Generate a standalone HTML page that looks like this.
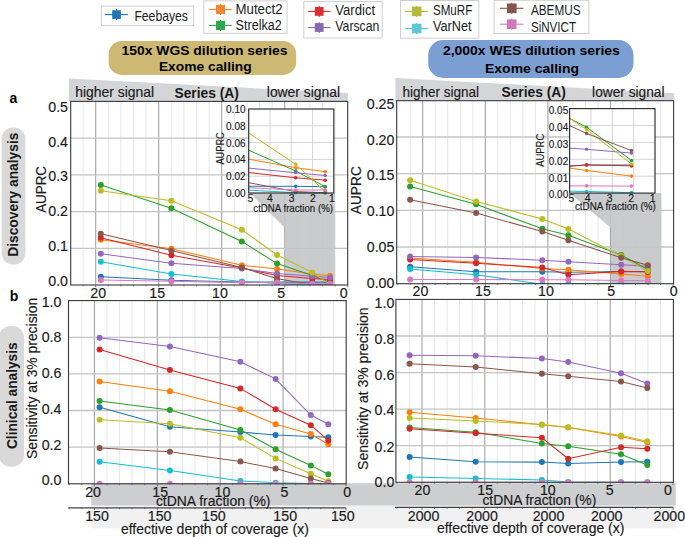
<!DOCTYPE html>
<html><head><meta charset="utf-8"><title>Figure</title>
<style>html,body{margin:0;padding:0;background:#fff;}svg{display:block;}text{font-family:"Liberation Sans",sans-serif;}</style></head>
<body>
<svg width="685" height="537" viewBox="0 0 685 537" font-family="Liberation Sans, sans-serif">
<rect width="685" height="537" fill="#fff"/>
<rect x="101.4" y="6.1" width="92.19999999999999" height="19.5" fill="#fff" stroke="#cfcfcf" stroke-width="1"/>
<line x1="105" y1="14.6" x2="127.9" y2="14.6" stroke="#1f78b4" stroke-width="1.1"/>
<line x1="116.55000000000001" y1="9.0" x2="116.55000000000001" y2="20.2" stroke="#1f78b4" stroke-width="1.1"/>
<rect x="112.2" y="10.249999999999998" width="8.700000000000003" height="8.700000000000003" fill="#1f78b4"/>
<text x="134.4" y="21.4" font-size="14" text-anchor="start" textLength="53.5" lengthAdjust="spacingAndGlyphs" fill="#1c1c1c">Feebayes</text>
<rect x="203.8" y="0.9" width="83.19999999999999" height="32.4" fill="#fff" stroke="#cfcfcf" stroke-width="1"/>
<line x1="209" y1="9.45" x2="231.8" y2="9.45" stroke="#f38630" stroke-width="1.1"/>
<line x1="220.5" y1="3.8499999999999996" x2="220.5" y2="15.049999999999999" stroke="#f38630" stroke-width="1.1"/>
<rect x="216" y="4.949999999999999" width="9" height="9" fill="#f38630"/>
<text x="235.6" y="13.7" font-size="14" text-anchor="start" textLength="47" lengthAdjust="spacingAndGlyphs" fill="#1c1c1c">Mutect2</text>
<line x1="209" y1="25.4" x2="231.8" y2="25.4" stroke="#2ea84f" stroke-width="1.1"/>
<line x1="220.55" y1="19.799999999999997" x2="220.55" y2="31.0" stroke="#2ea84f" stroke-width="1.1"/>
<rect x="216" y="20.85" width="9.099999999999994" height="9.099999999999994" fill="#2ea84f"/>
<text x="235.6" y="29.6" font-size="14" text-anchor="start" textLength="46.1" lengthAdjust="spacingAndGlyphs" fill="#1c1c1c">Strelka2</text>
<rect x="303.8" y="1.4" width="78.39999999999998" height="36.6" fill="#fff" stroke="#cfcfcf" stroke-width="1"/>
<line x1="308.1" y1="11.4" x2="330.6" y2="11.4" stroke="#da2d34" stroke-width="1.1"/>
<line x1="319.20000000000005" y1="5.800000000000001" x2="319.20000000000005" y2="17.0" stroke="#da2d34" stroke-width="1.1"/>
<rect x="314.8" y="6.999999999999995" width="8.800000000000011" height="8.800000000000011" fill="#da2d34"/>
<text x="335.3" y="14.9" font-size="14" text-anchor="start" textLength="39.8" lengthAdjust="spacingAndGlyphs" fill="#1c1c1c">Vardict</text>
<line x1="308.1" y1="27.5" x2="330.6" y2="27.5" stroke="#886ab0" stroke-width="1.1"/>
<line x1="319.20000000000005" y1="21.9" x2="319.20000000000005" y2="33.1" stroke="#886ab0" stroke-width="1.1"/>
<rect x="314.8" y="23.099999999999994" width="8.800000000000011" height="8.800000000000011" fill="#886ab0"/>
<text x="335.3" y="30.5" font-size="14" text-anchor="start" textLength="44.1" lengthAdjust="spacingAndGlyphs" fill="#1c1c1c">Varscan</text>
<rect x="400.5" y="0.5" width="78.30000000000001" height="37.7" fill="#fff" stroke="#cfcfcf" stroke-width="1"/>
<line x1="404.9" y1="11.4" x2="428.2" y2="11.4" stroke="#b4ba3a" stroke-width="1.1"/>
<line x1="416.7" y1="5.800000000000001" x2="416.7" y2="17.0" stroke="#b4ba3a" stroke-width="1.1"/>
<rect x="411.9" y="6.599999999999989" width="9.600000000000023" height="9.600000000000023" fill="#b4ba3a"/>
<text x="432.9" y="14.6" font-size="14" text-anchor="start" textLength="39.4" lengthAdjust="spacingAndGlyphs" fill="#1c1c1c">SMuRF</text>
<line x1="404.9" y1="28.5" x2="428.2" y2="28.5" stroke="#5ec8d6" stroke-width="1.1"/>
<line x1="416.7" y1="22.9" x2="416.7" y2="34.1" stroke="#5ec8d6" stroke-width="1.1"/>
<rect x="411.9" y="23.69999999999999" width="9.600000000000023" height="9.600000000000023" fill="#5ec8d6"/>
<text x="432.9" y="31.4" font-size="14" text-anchor="start" textLength="38.6" lengthAdjust="spacingAndGlyphs" fill="#1c1c1c">VarNet</text>
<rect x="494.1" y="0.3" width="94.79999999999995" height="33.2" fill="#fff" stroke="#cfcfcf" stroke-width="1"/>
<line x1="499.9" y1="8.3" x2="523.5" y2="8.3" stroke="#87554c" stroke-width="1.1"/>
<line x1="511.8" y1="2.700000000000001" x2="511.8" y2="13.9" stroke="#87554c" stroke-width="1.1"/>
<rect x="507" y="3.4999999999999893" width="9.600000000000023" height="9.600000000000023" fill="#87554c"/>
<text x="530.9" y="14.9" font-size="14" text-anchor="start" textLength="49.6" lengthAdjust="spacingAndGlyphs" fill="#1c1c1c">ABEMUS</text>
<line x1="499.9" y1="24.2" x2="523.5" y2="24.2" stroke="#cd7ab6" stroke-width="1.1"/>
<line x1="511.7" y1="18.6" x2="511.7" y2="29.799999999999997" stroke="#cd7ab6" stroke-width="1.1"/>
<rect x="506.9" y="19.399999999999988" width="9.600000000000023" height="9.600000000000023" fill="#cd7ab6"/>
<text x="530.9" y="31.5" font-size="14" text-anchor="start" textLength="45.2" lengthAdjust="spacingAndGlyphs" fill="#1c1c1c">SiNVICT</text>
<rect x="108.6" y="41.1" width="187.6" height="33.8" rx="13" ry="13" fill="#cdb974"/>
<text x="121.5" y="54.9" font-size="13.7" text-anchor="start" font-weight="bold" textLength="166" lengthAdjust="spacingAndGlyphs" fill="#000">150x WGS dilution series</text>
<text x="158.9" y="71.2" font-size="13.7" text-anchor="start" font-weight="bold" textLength="92.8" lengthAdjust="spacingAndGlyphs" fill="#000">Exome calling</text>
<rect x="428.2" y="40.1" width="205.3" height="37.8" rx="15" ry="15" fill="#7b9fd3"/>
<text x="442.9" y="55.4" font-size="13.7" text-anchor="start" font-weight="bold" textLength="177" lengthAdjust="spacingAndGlyphs" fill="#000">2,000x WES dilution series</text>
<text x="485" y="72.8" font-size="13.7" text-anchor="start" font-weight="bold" textLength="94" lengthAdjust="spacingAndGlyphs" fill="#000">Exome calling</text>
<polygon points="68.8,78.6 347.9,93.1 347.9,101.4 68.8,101.4" fill="#d4d5d7"/>
<polygon points="395.4,77.9 674.2,93.3 674.2,100.7 395.4,100.7" fill="#d4d5d7"/>
<text x="75.3" y="97.2" font-size="14.2" text-anchor="start" textLength="78.7" lengthAdjust="spacingAndGlyphs" stroke="#1a1a1a" stroke-width="0.15" fill="#1a1a1a">higher signal</text>
<text x="174.5" y="97.8" font-size="14.2" text-anchor="start" font-weight="bold" textLength="64.4" lengthAdjust="spacingAndGlyphs" fill="#1a1a1a">Series (A)</text>
<text x="266.8" y="97.2" font-size="14.2" text-anchor="start" textLength="73.2" lengthAdjust="spacingAndGlyphs" stroke="#1a1a1a" stroke-width="0.15" fill="#1a1a1a">lower signal</text>
<text x="402.6" y="96.8" font-size="14.2" text-anchor="start" textLength="76.5" lengthAdjust="spacingAndGlyphs" stroke="#1a1a1a" stroke-width="0.15" fill="#1a1a1a">higher signal</text>
<text x="501.5" y="97.3" font-size="14.2" text-anchor="start" font-weight="bold" textLength="64.4" lengthAdjust="spacingAndGlyphs" fill="#1a1a1a">Series (A)</text>
<text x="592.1" y="96.8" font-size="14.2" text-anchor="start" textLength="72.4" lengthAdjust="spacingAndGlyphs" stroke="#1a1a1a" stroke-width="0.15" fill="#1a1a1a">lower signal</text>
<rect x="1.6" y="127.5" width="23.8" height="137" rx="11.5" ry="11.5" fill="#d9d9d9"/>
<text x="17.6" y="194.7" font-size="14.6" text-anchor="middle" font-weight="bold" transform="rotate(-90 17.6 194.7)" textLength="124.2" lengthAdjust="spacingAndGlyphs" fill="#1a1a1a">Discovery analysis</text>
<rect x="-1" y="326" width="25" height="140.7" rx="11.5" ry="11.5" fill="#d9d9d9"/>
<text x="17.2" y="395.7" font-size="14.6" text-anchor="middle" font-weight="bold" transform="rotate(-90 17.2 395.7)" textLength="106.8" lengthAdjust="spacingAndGlyphs" fill="#1a1a1a">Clinical analysis</text>
<text x="9.6" y="102.6" font-size="14" text-anchor="start" font-weight="bold" fill="#000">a</text>
<text x="9.8" y="300.7" font-size="14" text-anchor="start" font-weight="bold" fill="#000">b</text>
<text x="46" y="189.4" font-size="14.2" text-anchor="middle" transform="rotate(-90 46 189.4)" textLength="46.8" lengthAdjust="spacingAndGlyphs" stroke="#1a1a1a" stroke-width="0.15" fill="#1a1a1a">AUPRC</text>
<text x="37" y="378.5" font-size="14.2" text-anchor="middle" transform="rotate(-90 37 378.5)" textLength="161.2" lengthAdjust="spacingAndGlyphs" stroke="#1a1a1a" stroke-width="0.15" fill="#1a1a1a">Sensitivity at 3% precision</text>
<text x="360.8" y="190.2" font-size="14.2" text-anchor="middle" transform="rotate(-90 360.8 190.2)" textLength="48" lengthAdjust="spacingAndGlyphs" stroke="#1a1a1a" stroke-width="0.15" fill="#1a1a1a">AUPRC</text>
<text x="368.5" y="388.7" font-size="14.2" text-anchor="middle" transform="rotate(-90 368.5 388.7)" textLength="162.5" lengthAdjust="spacingAndGlyphs" stroke="#1a1a1a" stroke-width="0.15" fill="#1a1a1a">Sensitivity at 3% precision</text>
<rect x="91.3" y="483.2" width="584.5" height="22.5" fill="#cdced0"/>
<rect x="91.3" y="505.7" width="584.5" height="22.6" fill="#f0f1f0"/>
<clipPath id="cTL"><rect x="70.7" y="101.4" width="277.0" height="183.6"/></clipPath>
<rect x="70.7" y="101.4" width="277.0" height="183.6" fill="#fff"/>
<line x1="335.1" y1="101.4" x2="335.1" y2="285" stroke="#e4e4e4" stroke-width="0.9"/>
<line x1="322.5" y1="101.4" x2="322.5" y2="285" stroke="#e4e4e4" stroke-width="0.9"/>
<line x1="309.9" y1="101.4" x2="309.9" y2="285" stroke="#e4e4e4" stroke-width="0.9"/>
<line x1="297.3" y1="101.4" x2="297.3" y2="285" stroke="#e4e4e4" stroke-width="0.9"/>
<line x1="284.7" y1="101.4" x2="284.7" y2="285" stroke="#a4a4a4" stroke-width="1.1"/>
<line x1="272.1" y1="101.4" x2="272.1" y2="285" stroke="#e4e4e4" stroke-width="0.9"/>
<line x1="259.5" y1="101.4" x2="259.5" y2="285" stroke="#e4e4e4" stroke-width="0.9"/>
<line x1="246.9" y1="101.4" x2="246.9" y2="285" stroke="#e4e4e4" stroke-width="0.9"/>
<line x1="234.3" y1="101.4" x2="234.3" y2="285" stroke="#e4e4e4" stroke-width="0.9"/>
<line x1="221.7" y1="101.4" x2="221.7" y2="285" stroke="#a4a4a4" stroke-width="1.1"/>
<line x1="209.1" y1="101.4" x2="209.1" y2="285" stroke="#e4e4e4" stroke-width="0.9"/>
<line x1="196.5" y1="101.4" x2="196.5" y2="285" stroke="#e4e4e4" stroke-width="0.9"/>
<line x1="183.9" y1="101.4" x2="183.9" y2="285" stroke="#e4e4e4" stroke-width="0.9"/>
<line x1="171.3" y1="101.4" x2="171.3" y2="285" stroke="#e4e4e4" stroke-width="0.9"/>
<line x1="158.7" y1="101.4" x2="158.7" y2="285" stroke="#a4a4a4" stroke-width="1.1"/>
<line x1="146.1" y1="101.4" x2="146.1" y2="285" stroke="#e4e4e4" stroke-width="0.9"/>
<line x1="133.5" y1="101.4" x2="133.5" y2="285" stroke="#e4e4e4" stroke-width="0.9"/>
<line x1="120.9" y1="101.4" x2="120.9" y2="285" stroke="#e4e4e4" stroke-width="0.9"/>
<line x1="108.3" y1="101.4" x2="108.3" y2="285" stroke="#e4e4e4" stroke-width="0.9"/>
<line x1="95.7" y1="101.4" x2="95.7" y2="285" stroke="#a4a4a4" stroke-width="1.1"/>
<line x1="83.1" y1="101.4" x2="83.1" y2="285" stroke="#e4e4e4" stroke-width="0.9"/>
<line x1="70.7" y1="138.2" x2="347.7" y2="138.2" stroke="#c4c4c4" stroke-width="1.3"/>
<line x1="70.7" y1="174.9" x2="347.7" y2="174.9" stroke="#c4c4c4" stroke-width="1.3"/>
<line x1="70.7" y1="211.6" x2="347.7" y2="211.6" stroke="#c4c4c4" stroke-width="1.3"/>
<line x1="70.7" y1="248.3" x2="347.7" y2="248.3" stroke="#c4c4c4" stroke-width="1.3"/>
<polygon points="250,193 334.9,193 334.9,285 284.7,285 284.7,227.7" fill="#c4c5c7" fill-opacity="0.9"/>
<g clip-path="url(#cTL)">
<polyline points="100.8,276.8 171.4,280.2 241.8,282.0 277.1,282.1 312.3,282.1 330.0,282.2" fill="none" stroke="#1f77b4" stroke-width="1.05"/>
<circle cx="100.8" cy="276.8" r="3.0" fill="#1f77b4"/>
<circle cx="171.4" cy="280.2" r="3.0" fill="#1f77b4"/>
<circle cx="241.8" cy="282.0" r="3.0" fill="#1f77b4"/>
<circle cx="277.1" cy="282.1" r="3.0" fill="#1f77b4"/>
<circle cx="312.3" cy="282.1" r="3.0" fill="#1f77b4"/>
<circle cx="330.0" cy="282.2" r="3.0" fill="#1f77b4"/>
<polyline points="100.8,239.8 171.4,248.7 241.8,265.2 277.1,269.0 312.3,274.0 330.0,275.7" fill="none" stroke="#ff7f0e" stroke-width="1.05"/>
<circle cx="100.8" cy="239.8" r="3.0" fill="#ff7f0e"/>
<circle cx="171.4" cy="248.7" r="3.0" fill="#ff7f0e"/>
<circle cx="241.8" cy="265.2" r="3.0" fill="#ff7f0e"/>
<circle cx="277.1" cy="269.0" r="3.0" fill="#ff7f0e"/>
<circle cx="312.3" cy="274.0" r="3.0" fill="#ff7f0e"/>
<circle cx="330.0" cy="275.7" r="3.0" fill="#ff7f0e"/>
<polyline points="100.8,185.0 171.4,208.3 241.8,241.4 277.1,263.6 312.3,275.4 330.0,282.2" fill="none" stroke="#2ca02c" stroke-width="1.05"/>
<circle cx="100.8" cy="185.0" r="3.0" fill="#2ca02c"/>
<circle cx="171.4" cy="208.3" r="3.0" fill="#2ca02c"/>
<circle cx="241.8" cy="241.4" r="3.0" fill="#2ca02c"/>
<circle cx="277.1" cy="263.6" r="3.0" fill="#2ca02c"/>
<circle cx="312.3" cy="275.4" r="3.0" fill="#2ca02c"/>
<circle cx="330.0" cy="282.2" r="3.0" fill="#2ca02c"/>
<polyline points="100.8,237.8 171.4,255.2 241.8,268.0 277.1,275.6 312.3,278.4 330.0,279.4" fill="none" stroke="#d62728" stroke-width="1.05"/>
<circle cx="100.8" cy="237.8" r="3.0" fill="#d62728"/>
<circle cx="171.4" cy="255.2" r="3.0" fill="#d62728"/>
<circle cx="241.8" cy="268.0" r="3.0" fill="#d62728"/>
<circle cx="277.1" cy="275.6" r="3.0" fill="#d62728"/>
<circle cx="312.3" cy="278.4" r="3.0" fill="#d62728"/>
<circle cx="330.0" cy="279.4" r="3.0" fill="#d62728"/>
<polyline points="100.8,253.8 171.4,263.2 241.8,268.6 277.1,273.6 312.3,276.2 330.0,277.4" fill="none" stroke="#9467bd" stroke-width="1.05"/>
<circle cx="100.8" cy="253.8" r="3.0" fill="#9467bd"/>
<circle cx="171.4" cy="263.2" r="3.0" fill="#9467bd"/>
<circle cx="241.8" cy="268.6" r="3.0" fill="#9467bd"/>
<circle cx="277.1" cy="273.6" r="3.0" fill="#9467bd"/>
<circle cx="312.3" cy="276.2" r="3.0" fill="#9467bd"/>
<circle cx="330.0" cy="277.4" r="3.0" fill="#9467bd"/>
<polyline points="100.8,190.8 171.4,200.8 241.8,229.8 277.1,255.0 312.3,272.4 330.0,284.4" fill="none" stroke="#bcbd22" stroke-width="1.05"/>
<circle cx="100.8" cy="190.8" r="3.0" fill="#bcbd22"/>
<circle cx="171.4" cy="200.8" r="3.0" fill="#bcbd22"/>
<circle cx="241.8" cy="229.8" r="3.0" fill="#bcbd22"/>
<circle cx="277.1" cy="255.0" r="3.0" fill="#bcbd22"/>
<circle cx="312.3" cy="272.4" r="3.0" fill="#bcbd22"/>
<circle cx="330.0" cy="284.4" r="3.0" fill="#bcbd22"/>
<polyline points="100.8,261.8 171.4,274.1 241.8,281.4 277.1,283.4 312.3,284.9 330.0,285.0" fill="none" stroke="#17becf" stroke-width="1.05"/>
<circle cx="100.8" cy="261.8" r="3.0" fill="#17becf"/>
<circle cx="171.4" cy="274.1" r="3.0" fill="#17becf"/>
<circle cx="241.8" cy="281.4" r="3.0" fill="#17becf"/>
<circle cx="277.1" cy="283.4" r="3.0" fill="#17becf"/>
<circle cx="312.3" cy="284.9" r="3.0" fill="#17becf"/>
<circle cx="330.0" cy="285.0" r="3.0" fill="#17becf"/>
<polyline points="100.8,233.7 171.4,250.6 241.8,267.4 277.1,278.8 312.3,284.4 330.0,284.9" fill="none" stroke="#8c564b" stroke-width="1.05"/>
<circle cx="100.8" cy="233.7" r="3.0" fill="#8c564b"/>
<circle cx="171.4" cy="250.6" r="3.0" fill="#8c564b"/>
<circle cx="241.8" cy="267.4" r="3.0" fill="#8c564b"/>
<circle cx="277.1" cy="278.8" r="3.0" fill="#8c564b"/>
<circle cx="312.3" cy="284.4" r="3.0" fill="#8c564b"/>
<circle cx="330.0" cy="284.9" r="3.0" fill="#8c564b"/>
<polyline points="100.8,280.0 171.4,281.2 241.8,282.6 277.1,282.5 312.3,283.7 330.0,283.7" fill="none" stroke="#db78c0" stroke-width="1.05"/>
<circle cx="100.8" cy="280.0" r="3.0" fill="#db78c0"/>
<circle cx="171.4" cy="281.2" r="3.0" fill="#db78c0"/>
<circle cx="241.8" cy="282.6" r="3.0" fill="#db78c0"/>
<circle cx="277.1" cy="282.5" r="3.0" fill="#db78c0"/>
<circle cx="312.3" cy="283.7" r="3.0" fill="#db78c0"/>
<circle cx="330.0" cy="283.7" r="3.0" fill="#db78c0"/>
</g>
<rect x="70.7" y="101.4" width="277.0" height="183.6" fill="none" stroke="#383838" stroke-width="1.1"/>
<line x1="347.7" y1="285" x2="347.7" y2="287.4" stroke="#555" stroke-width="0.8"/>
<line x1="335.1" y1="285" x2="335.1" y2="286.4" stroke="#555" stroke-width="0.8"/>
<line x1="322.5" y1="285" x2="322.5" y2="286.4" stroke="#555" stroke-width="0.8"/>
<line x1="309.9" y1="285" x2="309.9" y2="286.4" stroke="#555" stroke-width="0.8"/>
<line x1="297.3" y1="285" x2="297.3" y2="286.4" stroke="#555" stroke-width="0.8"/>
<line x1="284.7" y1="285" x2="284.7" y2="287.4" stroke="#555" stroke-width="0.8"/>
<line x1="272.1" y1="285" x2="272.1" y2="286.4" stroke="#555" stroke-width="0.8"/>
<line x1="259.5" y1="285" x2="259.5" y2="286.4" stroke="#555" stroke-width="0.8"/>
<line x1="246.9" y1="285" x2="246.9" y2="286.4" stroke="#555" stroke-width="0.8"/>
<line x1="234.3" y1="285" x2="234.3" y2="286.4" stroke="#555" stroke-width="0.8"/>
<line x1="221.7" y1="285" x2="221.7" y2="287.4" stroke="#555" stroke-width="0.8"/>
<line x1="209.1" y1="285" x2="209.1" y2="286.4" stroke="#555" stroke-width="0.8"/>
<line x1="196.5" y1="285" x2="196.5" y2="286.4" stroke="#555" stroke-width="0.8"/>
<line x1="183.9" y1="285" x2="183.9" y2="286.4" stroke="#555" stroke-width="0.8"/>
<line x1="171.3" y1="285" x2="171.3" y2="286.4" stroke="#555" stroke-width="0.8"/>
<line x1="158.7" y1="285" x2="158.7" y2="287.4" stroke="#555" stroke-width="0.8"/>
<line x1="146.1" y1="285" x2="146.1" y2="286.4" stroke="#555" stroke-width="0.8"/>
<line x1="133.5" y1="285" x2="133.5" y2="286.4" stroke="#555" stroke-width="0.8"/>
<line x1="120.9" y1="285" x2="120.9" y2="286.4" stroke="#555" stroke-width="0.8"/>
<line x1="108.3" y1="285" x2="108.3" y2="286.4" stroke="#555" stroke-width="0.8"/>
<line x1="95.7" y1="285" x2="95.7" y2="287.4" stroke="#555" stroke-width="0.8"/>
<line x1="83.1" y1="285" x2="83.1" y2="286.4" stroke="#555" stroke-width="0.8"/>
<text x="98.2" y="298.4" font-size="14.2" text-anchor="middle" stroke="#1a1a1a" stroke-width="0.15" fill="#1a1a1a">20</text>
<text x="157.2" y="298.4" font-size="14.2" text-anchor="middle" stroke="#1a1a1a" stroke-width="0.15" fill="#1a1a1a">15</text>
<text x="220" y="298.4" font-size="14.2" text-anchor="middle" stroke="#1a1a1a" stroke-width="0.15" fill="#1a1a1a">10</text>
<text x="281.2" y="298.4" font-size="14.2" text-anchor="middle" stroke="#1a1a1a" stroke-width="0.15" fill="#1a1a1a">5</text>
<text x="343.6" y="298.4" font-size="14.2" text-anchor="middle" stroke="#1a1a1a" stroke-width="0.15" fill="#1a1a1a">0</text>
<text x="68.0" y="111.9" font-size="14.2" text-anchor="end" stroke="#1a1a1a" stroke-width="0.15" fill="#1a1a1a">0.5</text>
<text x="68.0" y="146.6" font-size="14.2" text-anchor="end" stroke="#1a1a1a" stroke-width="0.15" fill="#1a1a1a">0.4</text>
<text x="68.0" y="181.4" font-size="14.2" text-anchor="end" stroke="#1a1a1a" stroke-width="0.15" fill="#1a1a1a">0.3</text>
<text x="68.0" y="216.3" font-size="14.2" text-anchor="end" stroke="#1a1a1a" stroke-width="0.15" fill="#1a1a1a">0.2</text>
<text x="68.0" y="251.2" font-size="14.2" text-anchor="end" stroke="#1a1a1a" stroke-width="0.15" fill="#1a1a1a">0.1</text>
<text x="68.0" y="285.8" font-size="14.2" text-anchor="end" stroke="#1a1a1a" stroke-width="0.15" fill="#1a1a1a">0.0</text>
<rect x="248.7" y="109" width="85.10000000000002" height="84" fill="#fff"/>
<line x1="270.0" y1="109" x2="270.0" y2="193" stroke="#d0d0d0" stroke-width="0.9"/>
<line x1="291.3" y1="109" x2="291.3" y2="193" stroke="#d0d0d0" stroke-width="0.9"/>
<line x1="312.6" y1="109" x2="312.6" y2="193" stroke="#d0d0d0" stroke-width="0.9"/>
<line x1="248.7" y1="176.2" x2="333.8" y2="176.2" stroke="#d0d0d0" stroke-width="0.9"/>
<line x1="248.7" y1="159.4" x2="333.8" y2="159.4" stroke="#d0d0d0" stroke-width="0.9"/>
<line x1="248.7" y1="142.6" x2="333.8" y2="142.6" stroke="#d0d0d0" stroke-width="0.9"/>
<line x1="248.7" y1="125.8" x2="333.8" y2="125.8" stroke="#d0d0d0" stroke-width="0.9"/>
<g>
<polyline points="248.7,186.3 295.7,186.3 325.2,186.7" fill="none" stroke="#1f77b4" stroke-width="1.0"/>
<circle cx="295.7" cy="186.3" r="1.8" fill="#1f77b4"/>
<circle cx="325.2" cy="186.7" r="1.8" fill="#1f77b4"/>
<polyline points="248.7,159.2 295.7,167.7 325.2,171.7" fill="none" stroke="#ff7f0e" stroke-width="1.0"/>
<circle cx="295.7" cy="167.7" r="1.8" fill="#ff7f0e"/>
<circle cx="325.2" cy="171.7" r="1.8" fill="#ff7f0e"/>
<polyline points="248.7,150.2 295.7,171.0 325.2,186.7" fill="none" stroke="#2ca02c" stroke-width="1.0"/>
<circle cx="295.7" cy="171.0" r="1.8" fill="#2ca02c"/>
<circle cx="325.2" cy="186.7" r="1.8" fill="#2ca02c"/>
<polyline points="248.7,172.6 295.7,177.8 325.2,180.2" fill="none" stroke="#d62728" stroke-width="1.0"/>
<circle cx="295.7" cy="177.8" r="1.8" fill="#d62728"/>
<circle cx="325.2" cy="180.2" r="1.8" fill="#d62728"/>
<polyline points="248.7,168.1 295.7,172.8 325.2,175.5" fill="none" stroke="#9467bd" stroke-width="1.0"/>
<circle cx="295.7" cy="172.8" r="1.8" fill="#9467bd"/>
<circle cx="325.2" cy="175.5" r="1.8" fill="#9467bd"/>
<polyline points="248.7,133.0 295.7,164.3 325.2,191.6" fill="none" stroke="#bcbd22" stroke-width="1.0"/>
<circle cx="295.7" cy="164.3" r="1.8" fill="#bcbd22"/>
<circle cx="325.2" cy="191.6" r="1.8" fill="#bcbd22"/>
<polyline points="248.7,190.1 295.7,192.7 325.2,193.0" fill="none" stroke="#17becf" stroke-width="1.0"/>
<circle cx="295.7" cy="192.7" r="1.8" fill="#17becf"/>
<circle cx="325.2" cy="193.0" r="1.8" fill="#17becf"/>
<polyline points="248.7,182.7 295.7,191.6 325.2,192.7" fill="none" stroke="#8c564b" stroke-width="1.0"/>
<circle cx="295.7" cy="191.6" r="1.8" fill="#8c564b"/>
<circle cx="325.2" cy="192.7" r="1.8" fill="#8c564b"/>
<polyline points="248.7,187.8 295.7,190.0 325.2,190.0" fill="none" stroke="#db78c0" stroke-width="1.0"/>
<circle cx="295.7" cy="190.0" r="1.8" fill="#db78c0"/>
<circle cx="325.2" cy="190.0" r="1.8" fill="#db78c0"/>
</g>
<rect x="248.7" y="109" width="85.10000000000002" height="84" fill="none" stroke="#333" stroke-width="1.2"/>
<text x="245.6" y="113.1" font-size="10.4" text-anchor="end" textLength="19.6" lengthAdjust="spacingAndGlyphs" stroke="#1a1a1a" stroke-width="0.15" fill="#1a1a1a">0.10</text>
<text x="245.6" y="129.9" font-size="10.4" text-anchor="end" textLength="19.6" lengthAdjust="spacingAndGlyphs" stroke="#1a1a1a" stroke-width="0.15" fill="#1a1a1a">0.08</text>
<text x="245.6" y="146.65" font-size="10.4" text-anchor="end" textLength="19.6" lengthAdjust="spacingAndGlyphs" stroke="#1a1a1a" stroke-width="0.15" fill="#1a1a1a">0.06</text>
<text x="245.6" y="163.35" font-size="10.4" text-anchor="end" textLength="19.6" lengthAdjust="spacingAndGlyphs" stroke="#1a1a1a" stroke-width="0.15" fill="#1a1a1a">0.04</text>
<text x="245.6" y="180.0" font-size="10.4" text-anchor="end" textLength="19.6" lengthAdjust="spacingAndGlyphs" stroke="#1a1a1a" stroke-width="0.15" fill="#1a1a1a">0.02</text>
<text x="245.6" y="196.85" font-size="10.4" text-anchor="end" textLength="19.6" lengthAdjust="spacingAndGlyphs" stroke="#1a1a1a" stroke-width="0.15" fill="#1a1a1a">0.00</text>
<text x="250.4" y="201.9" font-size="10.4" text-anchor="middle" stroke="#1a1a1a" stroke-width="0.15" fill="#1a1a1a">5</text>
<text x="269.8" y="201.9" font-size="10.4" text-anchor="middle" stroke="#1a1a1a" stroke-width="0.15" fill="#1a1a1a">4</text>
<text x="291.6" y="201.9" font-size="10.4" text-anchor="middle" stroke="#1a1a1a" stroke-width="0.15" fill="#1a1a1a">3</text>
<text x="312.9" y="201.9" font-size="10.4" text-anchor="middle" stroke="#1a1a1a" stroke-width="0.15" fill="#1a1a1a">2</text>
<text x="331.8" y="201.9" font-size="10.4" text-anchor="middle" stroke="#1a1a1a" stroke-width="0.15" fill="#1a1a1a">1</text>
<text x="253.3" y="211.7" font-size="10.4" text-anchor="start" textLength="79.7" lengthAdjust="spacingAndGlyphs" stroke="#1a1a1a" stroke-width="0.15" fill="#1a1a1a">ctDNA fraction (%)</text>
<text x="224.5" y="148.4" font-size="10.4" text-anchor="middle" transform="rotate(-90 224.5 148.4)" textLength="32.4" lengthAdjust="spacingAndGlyphs" stroke="#1a1a1a" stroke-width="0.15" fill="#1a1a1a">AUPRC</text>
<clipPath id="cTR"><rect x="396.7" y="100.7" width="276.90000000000003" height="183.0"/></clipPath>
<rect x="396.7" y="100.7" width="276.90000000000003" height="183.0" fill="#fff"/>
<line x1="660.6" y1="100.7" x2="660.6" y2="283.7" stroke="#e4e4e4" stroke-width="0.9"/>
<line x1="648.1" y1="100.7" x2="648.1" y2="283.7" stroke="#e4e4e4" stroke-width="0.9"/>
<line x1="635.5" y1="100.7" x2="635.5" y2="283.7" stroke="#e4e4e4" stroke-width="0.9"/>
<line x1="623.0" y1="100.7" x2="623.0" y2="283.7" stroke="#e4e4e4" stroke-width="0.9"/>
<line x1="610.5" y1="100.7" x2="610.5" y2="283.7" stroke="#a4a4a4" stroke-width="1.1"/>
<line x1="598.0" y1="100.7" x2="598.0" y2="283.7" stroke="#e4e4e4" stroke-width="0.9"/>
<line x1="585.5" y1="100.7" x2="585.5" y2="283.7" stroke="#e4e4e4" stroke-width="0.9"/>
<line x1="572.9" y1="100.7" x2="572.9" y2="283.7" stroke="#e4e4e4" stroke-width="0.9"/>
<line x1="560.4" y1="100.7" x2="560.4" y2="283.7" stroke="#e4e4e4" stroke-width="0.9"/>
<line x1="547.9" y1="100.7" x2="547.9" y2="283.7" stroke="#a4a4a4" stroke-width="1.1"/>
<line x1="535.4" y1="100.7" x2="535.4" y2="283.7" stroke="#e4e4e4" stroke-width="0.9"/>
<line x1="522.9" y1="100.7" x2="522.9" y2="283.7" stroke="#e4e4e4" stroke-width="0.9"/>
<line x1="510.3" y1="100.7" x2="510.3" y2="283.7" stroke="#e4e4e4" stroke-width="0.9"/>
<line x1="497.8" y1="100.7" x2="497.8" y2="283.7" stroke="#e4e4e4" stroke-width="0.9"/>
<line x1="485.3" y1="100.7" x2="485.3" y2="283.7" stroke="#a4a4a4" stroke-width="1.1"/>
<line x1="472.8" y1="100.7" x2="472.8" y2="283.7" stroke="#e4e4e4" stroke-width="0.9"/>
<line x1="460.3" y1="100.7" x2="460.3" y2="283.7" stroke="#e4e4e4" stroke-width="0.9"/>
<line x1="447.7" y1="100.7" x2="447.7" y2="283.7" stroke="#e4e4e4" stroke-width="0.9"/>
<line x1="435.2" y1="100.7" x2="435.2" y2="283.7" stroke="#e4e4e4" stroke-width="0.9"/>
<line x1="422.7" y1="100.7" x2="422.7" y2="283.7" stroke="#a4a4a4" stroke-width="1.1"/>
<line x1="410.2" y1="100.7" x2="410.2" y2="283.7" stroke="#e4e4e4" stroke-width="0.9"/>
<line x1="396.7" y1="137.0" x2="673.6" y2="137.0" stroke="#c4c4c4" stroke-width="1.3"/>
<line x1="396.7" y1="173.7" x2="673.6" y2="173.7" stroke="#c4c4c4" stroke-width="1.3"/>
<line x1="396.7" y1="210.3" x2="673.6" y2="210.3" stroke="#c4c4c4" stroke-width="1.3"/>
<line x1="396.7" y1="247.0" x2="673.6" y2="247.0" stroke="#c4c4c4" stroke-width="1.3"/>
<polygon points="569.6,193 661.4,193 661.4,283.7 611,283.7 611,228" fill="#c4c5c7" fill-opacity="0.9"/>
<g clip-path="url(#cTR)">
<polyline points="410.1,266.8 476.1,271.8 542.3,271.8 568.4,272.3 621.2,271.5 647.8,271.5" fill="none" stroke="#1f77b4" stroke-width="1.05"/>
<circle cx="410.1" cy="266.8" r="3.0" fill="#1f77b4"/>
<circle cx="476.1" cy="271.8" r="3.0" fill="#1f77b4"/>
<circle cx="542.3" cy="271.8" r="3.0" fill="#1f77b4"/>
<circle cx="568.4" cy="272.3" r="3.0" fill="#1f77b4"/>
<circle cx="621.2" cy="271.5" r="3.0" fill="#1f77b4"/>
<circle cx="647.8" cy="271.5" r="3.0" fill="#1f77b4"/>
<polyline points="410.1,258.1 476.1,262.3 542.3,268.5 568.4,269.8 621.2,273.9 647.8,276.3" fill="none" stroke="#ff7f0e" stroke-width="1.05"/>
<circle cx="410.1" cy="258.1" r="3.0" fill="#ff7f0e"/>
<circle cx="476.1" cy="262.3" r="3.0" fill="#ff7f0e"/>
<circle cx="542.3" cy="268.5" r="3.0" fill="#ff7f0e"/>
<circle cx="568.4" cy="269.8" r="3.0" fill="#ff7f0e"/>
<circle cx="621.2" cy="273.9" r="3.0" fill="#ff7f0e"/>
<circle cx="647.8" cy="276.3" r="3.0" fill="#ff7f0e"/>
<polyline points="410.1,186.6 476.1,204.3 542.3,228.8 568.4,235.3 621.2,255.1 647.8,269.5" fill="none" stroke="#2ca02c" stroke-width="1.05"/>
<circle cx="410.1" cy="186.6" r="3.0" fill="#2ca02c"/>
<circle cx="476.1" cy="204.3" r="3.0" fill="#2ca02c"/>
<circle cx="542.3" cy="228.8" r="3.0" fill="#2ca02c"/>
<circle cx="568.4" cy="235.3" r="3.0" fill="#2ca02c"/>
<circle cx="621.2" cy="255.1" r="3.0" fill="#2ca02c"/>
<circle cx="647.8" cy="269.5" r="3.0" fill="#2ca02c"/>
<polyline points="410.1,259.4 476.1,263.3 542.3,267.5 568.4,274.7 621.2,271.4 647.8,271.9" fill="none" stroke="#d62728" stroke-width="1.05"/>
<circle cx="410.1" cy="259.4" r="3.0" fill="#d62728"/>
<circle cx="476.1" cy="263.3" r="3.0" fill="#d62728"/>
<circle cx="542.3" cy="267.5" r="3.0" fill="#d62728"/>
<circle cx="568.4" cy="274.7" r="3.0" fill="#d62728"/>
<circle cx="621.2" cy="271.4" r="3.0" fill="#d62728"/>
<circle cx="647.8" cy="271.9" r="3.0" fill="#d62728"/>
<polyline points="410.1,256.6 476.1,257.4 542.3,260.3 568.4,261.8 621.2,264.7 647.8,266.3" fill="none" stroke="#9467bd" stroke-width="1.05"/>
<circle cx="410.1" cy="256.6" r="3.0" fill="#9467bd"/>
<circle cx="476.1" cy="257.4" r="3.0" fill="#9467bd"/>
<circle cx="542.3" cy="260.3" r="3.0" fill="#9467bd"/>
<circle cx="568.4" cy="261.8" r="3.0" fill="#9467bd"/>
<circle cx="621.2" cy="264.7" r="3.0" fill="#9467bd"/>
<circle cx="647.8" cy="266.3" r="3.0" fill="#9467bd"/>
<polyline points="410.1,180.2 476.1,201.5 542.3,218.9 568.4,229.1 621.2,256.1 647.8,271.1" fill="none" stroke="#bcbd22" stroke-width="1.05"/>
<circle cx="410.1" cy="180.2" r="3.0" fill="#bcbd22"/>
<circle cx="476.1" cy="201.5" r="3.0" fill="#bcbd22"/>
<circle cx="542.3" cy="218.9" r="3.0" fill="#bcbd22"/>
<circle cx="568.4" cy="229.1" r="3.0" fill="#bcbd22"/>
<circle cx="621.2" cy="256.1" r="3.0" fill="#bcbd22"/>
<circle cx="647.8" cy="271.1" r="3.0" fill="#bcbd22"/>
<polyline points="410.1,269.0 476.1,274.7 542.3,284.3 568.4,283.4 621.2,283.2 647.8,283.5" fill="none" stroke="#17becf" stroke-width="1.05"/>
<circle cx="410.1" cy="269.0" r="3.0" fill="#17becf"/>
<circle cx="476.1" cy="274.7" r="3.0" fill="#17becf"/>
<circle cx="542.3" cy="284.3" r="3.0" fill="#17becf"/>
<circle cx="568.4" cy="283.4" r="3.0" fill="#17becf"/>
<circle cx="621.2" cy="283.2" r="3.0" fill="#17becf"/>
<circle cx="647.8" cy="283.5" r="3.0" fill="#17becf"/>
<polyline points="410.1,199.8 476.1,212.9 542.3,231.6 568.4,240.2 621.2,257.8 647.8,265.2" fill="none" stroke="#8c564b" stroke-width="1.05"/>
<circle cx="410.1" cy="199.8" r="3.0" fill="#8c564b"/>
<circle cx="476.1" cy="212.9" r="3.0" fill="#8c564b"/>
<circle cx="542.3" cy="231.6" r="3.0" fill="#8c564b"/>
<circle cx="568.4" cy="240.2" r="3.0" fill="#8c564b"/>
<circle cx="621.2" cy="257.8" r="3.0" fill="#8c564b"/>
<circle cx="647.8" cy="265.2" r="3.0" fill="#8c564b"/>
<polyline points="410.1,279.5 476.1,279.5 542.3,279.7 568.4,279.7 621.2,280.5 647.8,280.7" fill="none" stroke="#db78c0" stroke-width="1.05"/>
<circle cx="410.1" cy="279.5" r="3.0" fill="#db78c0"/>
<circle cx="476.1" cy="279.5" r="3.0" fill="#db78c0"/>
<circle cx="542.3" cy="279.7" r="3.0" fill="#db78c0"/>
<circle cx="568.4" cy="279.7" r="3.0" fill="#db78c0"/>
<circle cx="621.2" cy="280.5" r="3.0" fill="#db78c0"/>
<circle cx="647.8" cy="280.7" r="3.0" fill="#db78c0"/>
</g>
<rect x="396.7" y="100.7" width="276.90000000000003" height="183.0" fill="none" stroke="#383838" stroke-width="1.1"/>
<line x1="673.1" y1="283.7" x2="673.1" y2="286.09999999999997" stroke="#555" stroke-width="0.8"/>
<line x1="660.6" y1="283.7" x2="660.6" y2="285.09999999999997" stroke="#555" stroke-width="0.8"/>
<line x1="648.1" y1="283.7" x2="648.1" y2="285.09999999999997" stroke="#555" stroke-width="0.8"/>
<line x1="635.5" y1="283.7" x2="635.5" y2="285.09999999999997" stroke="#555" stroke-width="0.8"/>
<line x1="623.0" y1="283.7" x2="623.0" y2="285.09999999999997" stroke="#555" stroke-width="0.8"/>
<line x1="610.5" y1="283.7" x2="610.5" y2="286.09999999999997" stroke="#555" stroke-width="0.8"/>
<line x1="598.0" y1="283.7" x2="598.0" y2="285.09999999999997" stroke="#555" stroke-width="0.8"/>
<line x1="585.5" y1="283.7" x2="585.5" y2="285.09999999999997" stroke="#555" stroke-width="0.8"/>
<line x1="572.9" y1="283.7" x2="572.9" y2="285.09999999999997" stroke="#555" stroke-width="0.8"/>
<line x1="560.4" y1="283.7" x2="560.4" y2="285.09999999999997" stroke="#555" stroke-width="0.8"/>
<line x1="547.9" y1="283.7" x2="547.9" y2="286.09999999999997" stroke="#555" stroke-width="0.8"/>
<line x1="535.4" y1="283.7" x2="535.4" y2="285.09999999999997" stroke="#555" stroke-width="0.8"/>
<line x1="522.9" y1="283.7" x2="522.9" y2="285.09999999999997" stroke="#555" stroke-width="0.8"/>
<line x1="510.3" y1="283.7" x2="510.3" y2="285.09999999999997" stroke="#555" stroke-width="0.8"/>
<line x1="497.8" y1="283.7" x2="497.8" y2="285.09999999999997" stroke="#555" stroke-width="0.8"/>
<line x1="485.3" y1="283.7" x2="485.3" y2="286.09999999999997" stroke="#555" stroke-width="0.8"/>
<line x1="472.8" y1="283.7" x2="472.8" y2="285.09999999999997" stroke="#555" stroke-width="0.8"/>
<line x1="460.3" y1="283.7" x2="460.3" y2="285.09999999999997" stroke="#555" stroke-width="0.8"/>
<line x1="447.7" y1="283.7" x2="447.7" y2="285.09999999999997" stroke="#555" stroke-width="0.8"/>
<line x1="435.2" y1="283.7" x2="435.2" y2="285.09999999999997" stroke="#555" stroke-width="0.8"/>
<line x1="422.7" y1="283.7" x2="422.7" y2="286.09999999999997" stroke="#555" stroke-width="0.8"/>
<line x1="410.2" y1="283.7" x2="410.2" y2="285.09999999999997" stroke="#555" stroke-width="0.8"/>
<line x1="397.7" y1="283.7" x2="397.7" y2="285.09999999999997" stroke="#555" stroke-width="0.8"/>
<text x="420.5" y="296.4" font-size="14.2" text-anchor="middle" stroke="#1a1a1a" stroke-width="0.15" fill="#1a1a1a">20</text>
<text x="483" y="296.4" font-size="14.2" text-anchor="middle" stroke="#1a1a1a" stroke-width="0.15" fill="#1a1a1a">15</text>
<text x="546" y="296.4" font-size="14.2" text-anchor="middle" stroke="#1a1a1a" stroke-width="0.15" fill="#1a1a1a">10</text>
<text x="611.3" y="296.4" font-size="14.2" text-anchor="middle" stroke="#1a1a1a" stroke-width="0.15" fill="#1a1a1a">5</text>
<text x="673.8" y="296.4" font-size="14.2" text-anchor="middle" stroke="#1a1a1a" stroke-width="0.15" fill="#1a1a1a">0</text>
<text x="394.4" y="109.3" font-size="14.2" text-anchor="end" stroke="#1a1a1a" stroke-width="0.15" fill="#1a1a1a">0.25</text>
<text x="394.4" y="144.79999999999998" font-size="14.2" text-anchor="end" stroke="#1a1a1a" stroke-width="0.15" fill="#1a1a1a">0.20</text>
<text x="394.4" y="180.1" font-size="14.2" text-anchor="end" stroke="#1a1a1a" stroke-width="0.15" fill="#1a1a1a">0.15</text>
<text x="394.4" y="215.6" font-size="14.2" text-anchor="end" stroke="#1a1a1a" stroke-width="0.15" fill="#1a1a1a">0.10</text>
<text x="394.4" y="252.0" font-size="14.2" text-anchor="end" stroke="#1a1a1a" stroke-width="0.15" fill="#1a1a1a">0.05</text>
<text x="394.4" y="287.5" font-size="14.2" text-anchor="end" stroke="#1a1a1a" stroke-width="0.15" fill="#1a1a1a">0.00</text>
<rect x="569.6" y="108.6" width="85.39999999999998" height="84.5" fill="#fff"/>
<line x1="591.0" y1="108.6" x2="591.0" y2="193.1" stroke="#d0d0d0" stroke-width="0.9"/>
<line x1="612.3" y1="108.6" x2="612.3" y2="193.1" stroke="#d0d0d0" stroke-width="0.9"/>
<line x1="633.7" y1="108.6" x2="633.7" y2="193.1" stroke="#d0d0d0" stroke-width="0.9"/>
<line x1="569.6" y1="176.2" x2="655" y2="176.2" stroke="#d0d0d0" stroke-width="0.9"/>
<line x1="569.6" y1="159.3" x2="655" y2="159.3" stroke="#d0d0d0" stroke-width="0.9"/>
<line x1="569.6" y1="142.4" x2="655" y2="142.4" stroke="#d0d0d0" stroke-width="0.9"/>
<line x1="569.6" y1="125.5" x2="655" y2="125.5" stroke="#d0d0d0" stroke-width="0.9"/>
<g>
<polyline points="569.6,166.1 586.6,165.0 631.5,165.0" fill="none" stroke="#1f77b4" stroke-width="1.0"/>
<circle cx="586.6" cy="165.0" r="1.8" fill="#1f77b4"/>
<circle cx="631.5" cy="165.0" r="1.8" fill="#1f77b4"/>
<polyline points="569.6,168.0 586.6,170.5 631.5,176.1" fill="none" stroke="#ff7f0e" stroke-width="1.0"/>
<circle cx="586.6" cy="170.5" r="1.8" fill="#ff7f0e"/>
<circle cx="631.5" cy="176.1" r="1.8" fill="#ff7f0e"/>
<polyline points="569.6,118.4 586.6,127.2 631.5,160.5" fill="none" stroke="#2ca02c" stroke-width="1.0"/>
<circle cx="586.6" cy="127.2" r="1.8" fill="#2ca02c"/>
<circle cx="631.5" cy="160.5" r="1.8" fill="#2ca02c"/>
<polyline points="569.6,166.1 586.6,164.9 631.5,165.9" fill="none" stroke="#d62728" stroke-width="1.0"/>
<circle cx="586.6" cy="164.9" r="1.8" fill="#d62728"/>
<circle cx="631.5" cy="165.9" r="1.8" fill="#d62728"/>
<polyline points="569.6,148.2 586.6,149.3 631.5,153.1" fill="none" stroke="#9467bd" stroke-width="1.0"/>
<circle cx="586.6" cy="149.3" r="1.8" fill="#9467bd"/>
<circle cx="631.5" cy="153.1" r="1.8" fill="#9467bd"/>
<polyline points="569.6,118.4 586.6,129.6 631.5,164.0" fill="none" stroke="#bcbd22" stroke-width="1.0"/>
<circle cx="586.6" cy="129.6" r="1.8" fill="#bcbd22"/>
<circle cx="631.5" cy="164.0" r="1.8" fill="#bcbd22"/>
<polyline points="569.6,191.2 586.6,191.5 631.5,192.6" fill="none" stroke="#17becf" stroke-width="1.0"/>
<circle cx="586.6" cy="191.5" r="1.8" fill="#17becf"/>
<circle cx="631.5" cy="192.6" r="1.8" fill="#17becf"/>
<polyline points="569.6,125.6 586.6,133.5 631.5,150.5" fill="none" stroke="#8c564b" stroke-width="1.0"/>
<circle cx="586.6" cy="133.5" r="1.8" fill="#8c564b"/>
<circle cx="631.5" cy="150.5" r="1.8" fill="#8c564b"/>
<polyline points="569.6,185.9 586.6,185.9 631.5,186.1" fill="none" stroke="#db78c0" stroke-width="1.0"/>
<circle cx="586.6" cy="185.9" r="1.8" fill="#db78c0"/>
<circle cx="631.5" cy="186.1" r="1.8" fill="#db78c0"/>
</g>
<rect x="569.6" y="108.6" width="85.39999999999998" height="84.5" fill="none" stroke="#333" stroke-width="1.2"/>
<text x="568.2" y="114.1" font-size="10.4" text-anchor="end" textLength="19.4" lengthAdjust="spacingAndGlyphs" stroke="#1a1a1a" stroke-width="0.15" fill="#1a1a1a">0.05</text>
<text x="568.2" y="131" font-size="10.4" text-anchor="end" textLength="19.4" lengthAdjust="spacingAndGlyphs" stroke="#1a1a1a" stroke-width="0.15" fill="#1a1a1a">0.04</text>
<text x="568.2" y="148" font-size="10.4" text-anchor="end" textLength="19.4" lengthAdjust="spacingAndGlyphs" stroke="#1a1a1a" stroke-width="0.15" fill="#1a1a1a">0.03</text>
<text x="568.2" y="164.5" font-size="10.4" text-anchor="end" textLength="19.4" lengthAdjust="spacingAndGlyphs" stroke="#1a1a1a" stroke-width="0.15" fill="#1a1a1a">0.02</text>
<text x="568.2" y="181.6" font-size="10.4" text-anchor="end" textLength="19.4" lengthAdjust="spacingAndGlyphs" stroke="#1a1a1a" stroke-width="0.15" fill="#1a1a1a">0.01</text>
<text x="568.2" y="197.8" font-size="10.4" text-anchor="end" textLength="19.4" lengthAdjust="spacingAndGlyphs" stroke="#1a1a1a" stroke-width="0.15" fill="#1a1a1a">0.00</text>
<text x="571.4" y="202.3" font-size="10.4" text-anchor="middle" stroke="#1a1a1a" stroke-width="0.15" fill="#1a1a1a">5</text>
<text x="587.7" y="202.3" font-size="10.4" text-anchor="middle" stroke="#1a1a1a" stroke-width="0.15" fill="#1a1a1a">4</text>
<text x="609.6" y="202.3" font-size="10.4" text-anchor="middle" stroke="#1a1a1a" stroke-width="0.15" fill="#1a1a1a">3</text>
<text x="631.2" y="202.3" font-size="10.4" text-anchor="middle" stroke="#1a1a1a" stroke-width="0.15" fill="#1a1a1a">2</text>
<text x="652.6" y="202.3" font-size="10.4" text-anchor="middle" stroke="#1a1a1a" stroke-width="0.15" fill="#1a1a1a">1</text>
<text x="574.9" y="210.3" font-size="10.4" text-anchor="start" textLength="80.8" lengthAdjust="spacingAndGlyphs" stroke="#1a1a1a" stroke-width="0.15" fill="#1a1a1a">ctDNA fraction (%)</text>
<text x="544.2" y="150.3" font-size="10.4" text-anchor="middle" transform="rotate(-90 544.2 150.3)" textLength="33" lengthAdjust="spacingAndGlyphs" stroke="#1a1a1a" stroke-width="0.15" fill="#1a1a1a">AUPRC</text>
<clipPath id="cBL"><rect x="68.5" y="300.6" width="277.7" height="183.2"/></clipPath>
<rect x="68.5" y="300.6" width="277.7" height="183.2" fill="#fff"/>
<line x1="333.4" y1="300.6" x2="333.4" y2="483.8" stroke="#e4e4e4" stroke-width="0.9"/>
<line x1="320.8" y1="300.6" x2="320.8" y2="483.8" stroke="#e4e4e4" stroke-width="0.9"/>
<line x1="308.3" y1="300.6" x2="308.3" y2="483.8" stroke="#e4e4e4" stroke-width="0.9"/>
<line x1="295.7" y1="300.6" x2="295.7" y2="483.8" stroke="#e4e4e4" stroke-width="0.9"/>
<line x1="283.1" y1="300.6" x2="283.1" y2="483.8" stroke="#a4a4a4" stroke-width="1.1"/>
<line x1="270.5" y1="300.6" x2="270.5" y2="483.8" stroke="#e4e4e4" stroke-width="0.9"/>
<line x1="257.9" y1="300.6" x2="257.9" y2="483.8" stroke="#e4e4e4" stroke-width="0.9"/>
<line x1="245.4" y1="300.6" x2="245.4" y2="483.8" stroke="#e4e4e4" stroke-width="0.9"/>
<line x1="232.8" y1="300.6" x2="232.8" y2="483.8" stroke="#e4e4e4" stroke-width="0.9"/>
<line x1="220.2" y1="300.6" x2="220.2" y2="483.8" stroke="#a4a4a4" stroke-width="1.1"/>
<line x1="207.6" y1="300.6" x2="207.6" y2="483.8" stroke="#e4e4e4" stroke-width="0.9"/>
<line x1="195.0" y1="300.6" x2="195.0" y2="483.8" stroke="#e4e4e4" stroke-width="0.9"/>
<line x1="182.5" y1="300.6" x2="182.5" y2="483.8" stroke="#e4e4e4" stroke-width="0.9"/>
<line x1="169.9" y1="300.6" x2="169.9" y2="483.8" stroke="#e4e4e4" stroke-width="0.9"/>
<line x1="157.3" y1="300.6" x2="157.3" y2="483.8" stroke="#a4a4a4" stroke-width="1.1"/>
<line x1="144.7" y1="300.6" x2="144.7" y2="483.8" stroke="#e4e4e4" stroke-width="0.9"/>
<line x1="132.1" y1="300.6" x2="132.1" y2="483.8" stroke="#e4e4e4" stroke-width="0.9"/>
<line x1="119.6" y1="300.6" x2="119.6" y2="483.8" stroke="#e4e4e4" stroke-width="0.9"/>
<line x1="107.0" y1="300.6" x2="107.0" y2="483.8" stroke="#e4e4e4" stroke-width="0.9"/>
<line x1="94.4" y1="300.6" x2="94.4" y2="483.8" stroke="#a4a4a4" stroke-width="1.1"/>
<line x1="81.8" y1="300.6" x2="81.8" y2="483.8" stroke="#e4e4e4" stroke-width="0.9"/>
<line x1="68.5" y1="337.3" x2="346.2" y2="337.3" stroke="#c4c4c4" stroke-width="1.3"/>
<line x1="68.5" y1="373.9" x2="346.2" y2="373.9" stroke="#c4c4c4" stroke-width="1.3"/>
<line x1="68.5" y1="410.5" x2="346.2" y2="410.5" stroke="#c4c4c4" stroke-width="1.3"/>
<line x1="68.5" y1="447.2" x2="346.2" y2="447.2" stroke="#c4c4c4" stroke-width="1.3"/>
<g clip-path="url(#cBL)">
<polyline points="99.6,407.2 169.9,426.8 240.4,432.1 275.6,435.0 310.8,436.6 328.3,437.2" fill="none" stroke="#1f77b4" stroke-width="1.05"/>
<circle cx="99.6" cy="407.2" r="3.0" fill="#1f77b4"/>
<circle cx="169.9" cy="426.8" r="3.0" fill="#1f77b4"/>
<circle cx="240.4" cy="432.1" r="3.0" fill="#1f77b4"/>
<circle cx="275.6" cy="435.0" r="3.0" fill="#1f77b4"/>
<circle cx="310.8" cy="436.6" r="3.0" fill="#1f77b4"/>
<circle cx="328.3" cy="437.2" r="3.0" fill="#1f77b4"/>
<polyline points="99.6,381.5 169.9,391.2 240.4,409.3 275.6,424.2 310.8,434.0 328.3,444.2" fill="none" stroke="#ff7f0e" stroke-width="1.05"/>
<circle cx="99.6" cy="381.5" r="3.0" fill="#ff7f0e"/>
<circle cx="169.9" cy="391.2" r="3.0" fill="#ff7f0e"/>
<circle cx="240.4" cy="409.3" r="3.0" fill="#ff7f0e"/>
<circle cx="275.6" cy="424.2" r="3.0" fill="#ff7f0e"/>
<circle cx="310.8" cy="434.0" r="3.0" fill="#ff7f0e"/>
<circle cx="328.3" cy="444.2" r="3.0" fill="#ff7f0e"/>
<polyline points="99.6,400.9 169.9,410.1 240.4,429.9 275.6,449.2 310.8,465.4 328.3,474.3" fill="none" stroke="#2ca02c" stroke-width="1.05"/>
<circle cx="99.6" cy="400.9" r="3.0" fill="#2ca02c"/>
<circle cx="169.9" cy="410.1" r="3.0" fill="#2ca02c"/>
<circle cx="240.4" cy="429.9" r="3.0" fill="#2ca02c"/>
<circle cx="275.6" cy="449.2" r="3.0" fill="#2ca02c"/>
<circle cx="310.8" cy="465.4" r="3.0" fill="#2ca02c"/>
<circle cx="328.3" cy="474.3" r="3.0" fill="#2ca02c"/>
<polyline points="99.6,349.5 169.9,369.9 240.4,388.4 275.6,409.3 310.8,425.2 328.3,440.4" fill="none" stroke="#d62728" stroke-width="1.05"/>
<circle cx="99.6" cy="349.5" r="3.0" fill="#d62728"/>
<circle cx="169.9" cy="369.9" r="3.0" fill="#d62728"/>
<circle cx="240.4" cy="388.4" r="3.0" fill="#d62728"/>
<circle cx="275.6" cy="409.3" r="3.0" fill="#d62728"/>
<circle cx="310.8" cy="425.2" r="3.0" fill="#d62728"/>
<circle cx="328.3" cy="440.4" r="3.0" fill="#d62728"/>
<polyline points="99.6,337.7 169.9,346.6 240.4,361.8 275.6,378.9 310.8,415.0 328.3,424.2" fill="none" stroke="#9467bd" stroke-width="1.05"/>
<circle cx="99.6" cy="337.7" r="3.0" fill="#9467bd"/>
<circle cx="169.9" cy="346.6" r="3.0" fill="#9467bd"/>
<circle cx="240.4" cy="361.8" r="3.0" fill="#9467bd"/>
<circle cx="275.6" cy="378.9" r="3.0" fill="#9467bd"/>
<circle cx="310.8" cy="415.0" r="3.0" fill="#9467bd"/>
<circle cx="328.3" cy="424.2" r="3.0" fill="#9467bd"/>
<polyline points="99.6,419.8 169.9,423.7 240.4,437.8 275.6,458.4 310.8,473.8 328.3,481.3" fill="none" stroke="#bcbd22" stroke-width="1.05"/>
<circle cx="99.6" cy="419.8" r="3.0" fill="#bcbd22"/>
<circle cx="169.9" cy="423.7" r="3.0" fill="#bcbd22"/>
<circle cx="240.4" cy="437.8" r="3.0" fill="#bcbd22"/>
<circle cx="275.6" cy="458.4" r="3.0" fill="#bcbd22"/>
<circle cx="310.8" cy="473.8" r="3.0" fill="#bcbd22"/>
<circle cx="328.3" cy="481.3" r="3.0" fill="#bcbd22"/>
<polyline points="99.6,461.8 169.9,470.6 240.4,480.9 275.6,482.7 310.8,483.5 328.3,483.7" fill="none" stroke="#17becf" stroke-width="1.05"/>
<circle cx="99.6" cy="461.8" r="3.0" fill="#17becf"/>
<circle cx="169.9" cy="470.6" r="3.0" fill="#17becf"/>
<circle cx="240.4" cy="480.9" r="3.0" fill="#17becf"/>
<circle cx="275.6" cy="482.7" r="3.0" fill="#17becf"/>
<circle cx="310.8" cy="483.5" r="3.0" fill="#17becf"/>
<circle cx="328.3" cy="483.7" r="3.0" fill="#17becf"/>
<polyline points="99.6,447.9 169.9,451.8 240.4,461.6 275.6,468.6 310.8,478.4 328.3,483.0" fill="none" stroke="#8c564b" stroke-width="1.05"/>
<circle cx="99.6" cy="447.9" r="3.0" fill="#8c564b"/>
<circle cx="169.9" cy="451.8" r="3.0" fill="#8c564b"/>
<circle cx="240.4" cy="461.6" r="3.0" fill="#8c564b"/>
<circle cx="275.6" cy="468.6" r="3.0" fill="#8c564b"/>
<circle cx="310.8" cy="478.4" r="3.0" fill="#8c564b"/>
<circle cx="328.3" cy="483.0" r="3.0" fill="#8c564b"/>
<polyline points="99.6,483.7 169.9,483.7 240.4,483.7 275.6,483.7 310.8,483.7 328.3,483.7" fill="none" stroke="#db78c0" stroke-width="1.05"/>
<circle cx="99.6" cy="483.7" r="3.0" fill="#db78c0"/>
<circle cx="169.9" cy="483.7" r="3.0" fill="#db78c0"/>
<circle cx="240.4" cy="483.7" r="3.0" fill="#db78c0"/>
<circle cx="275.6" cy="483.7" r="3.0" fill="#db78c0"/>
<circle cx="310.8" cy="483.7" r="3.0" fill="#db78c0"/>
<circle cx="328.3" cy="483.7" r="3.0" fill="#db78c0"/>
</g>
<rect x="68.5" y="300.6" width="277.7" height="183.2" fill="none" stroke="#383838" stroke-width="1.1"/>
<line x1="346.0" y1="483.8" x2="346.0" y2="486.2" stroke="#555" stroke-width="0.8"/>
<line x1="346.0" y1="507.8" x2="346.0" y2="510.2" stroke="#555" stroke-width="0.8"/>
<line x1="333.4" y1="483.8" x2="333.4" y2="485.2" stroke="#555" stroke-width="0.8"/>
<line x1="333.4" y1="507.8" x2="333.4" y2="509.2" stroke="#555" stroke-width="0.8"/>
<line x1="320.8" y1="483.8" x2="320.8" y2="485.2" stroke="#555" stroke-width="0.8"/>
<line x1="320.8" y1="507.8" x2="320.8" y2="509.2" stroke="#555" stroke-width="0.8"/>
<line x1="308.3" y1="483.8" x2="308.3" y2="485.2" stroke="#555" stroke-width="0.8"/>
<line x1="308.3" y1="507.8" x2="308.3" y2="509.2" stroke="#555" stroke-width="0.8"/>
<line x1="295.7" y1="483.8" x2="295.7" y2="485.2" stroke="#555" stroke-width="0.8"/>
<line x1="295.7" y1="507.8" x2="295.7" y2="509.2" stroke="#555" stroke-width="0.8"/>
<line x1="283.1" y1="483.8" x2="283.1" y2="486.2" stroke="#555" stroke-width="0.8"/>
<line x1="283.1" y1="507.8" x2="283.1" y2="510.2" stroke="#555" stroke-width="0.8"/>
<line x1="270.5" y1="483.8" x2="270.5" y2="485.2" stroke="#555" stroke-width="0.8"/>
<line x1="270.5" y1="507.8" x2="270.5" y2="509.2" stroke="#555" stroke-width="0.8"/>
<line x1="257.9" y1="483.8" x2="257.9" y2="485.2" stroke="#555" stroke-width="0.8"/>
<line x1="257.9" y1="507.8" x2="257.9" y2="509.2" stroke="#555" stroke-width="0.8"/>
<line x1="245.4" y1="483.8" x2="245.4" y2="485.2" stroke="#555" stroke-width="0.8"/>
<line x1="245.4" y1="507.8" x2="245.4" y2="509.2" stroke="#555" stroke-width="0.8"/>
<line x1="232.8" y1="483.8" x2="232.8" y2="485.2" stroke="#555" stroke-width="0.8"/>
<line x1="232.8" y1="507.8" x2="232.8" y2="509.2" stroke="#555" stroke-width="0.8"/>
<line x1="220.2" y1="483.8" x2="220.2" y2="486.2" stroke="#555" stroke-width="0.8"/>
<line x1="220.2" y1="507.8" x2="220.2" y2="510.2" stroke="#555" stroke-width="0.8"/>
<line x1="207.6" y1="483.8" x2="207.6" y2="485.2" stroke="#555" stroke-width="0.8"/>
<line x1="207.6" y1="507.8" x2="207.6" y2="509.2" stroke="#555" stroke-width="0.8"/>
<line x1="195.0" y1="483.8" x2="195.0" y2="485.2" stroke="#555" stroke-width="0.8"/>
<line x1="195.0" y1="507.8" x2="195.0" y2="509.2" stroke="#555" stroke-width="0.8"/>
<line x1="182.5" y1="483.8" x2="182.5" y2="485.2" stroke="#555" stroke-width="0.8"/>
<line x1="182.5" y1="507.8" x2="182.5" y2="509.2" stroke="#555" stroke-width="0.8"/>
<line x1="169.9" y1="483.8" x2="169.9" y2="485.2" stroke="#555" stroke-width="0.8"/>
<line x1="169.9" y1="507.8" x2="169.9" y2="509.2" stroke="#555" stroke-width="0.8"/>
<line x1="157.3" y1="483.8" x2="157.3" y2="486.2" stroke="#555" stroke-width="0.8"/>
<line x1="157.3" y1="507.8" x2="157.3" y2="510.2" stroke="#555" stroke-width="0.8"/>
<line x1="144.7" y1="483.8" x2="144.7" y2="485.2" stroke="#555" stroke-width="0.8"/>
<line x1="144.7" y1="507.8" x2="144.7" y2="509.2" stroke="#555" stroke-width="0.8"/>
<line x1="132.1" y1="483.8" x2="132.1" y2="485.2" stroke="#555" stroke-width="0.8"/>
<line x1="132.1" y1="507.8" x2="132.1" y2="509.2" stroke="#555" stroke-width="0.8"/>
<line x1="119.6" y1="483.8" x2="119.6" y2="485.2" stroke="#555" stroke-width="0.8"/>
<line x1="119.6" y1="507.8" x2="119.6" y2="509.2" stroke="#555" stroke-width="0.8"/>
<line x1="107.0" y1="483.8" x2="107.0" y2="485.2" stroke="#555" stroke-width="0.8"/>
<line x1="107.0" y1="507.8" x2="107.0" y2="509.2" stroke="#555" stroke-width="0.8"/>
<line x1="94.4" y1="483.8" x2="94.4" y2="486.2" stroke="#555" stroke-width="0.8"/>
<line x1="94.4" y1="507.8" x2="94.4" y2="510.2" stroke="#555" stroke-width="0.8"/>
<line x1="81.8" y1="483.8" x2="81.8" y2="485.2" stroke="#555" stroke-width="0.8"/>
<line x1="81.8" y1="507.8" x2="81.8" y2="509.2" stroke="#555" stroke-width="0.8"/>
<line x1="69.2" y1="483.8" x2="69.2" y2="485.2" stroke="#555" stroke-width="0.8"/>
<line x1="69.2" y1="507.8" x2="69.2" y2="509.2" stroke="#555" stroke-width="0.8"/>
<line x1="68.3" y1="507.8" x2="345.8" y2="507.8" stroke="#444" stroke-width="1.2"/>
<text x="93.1" y="497.3" font-size="14.2" text-anchor="middle" stroke="#1a1a1a" stroke-width="0.15" fill="#1a1a1a">20</text>
<text x="160.2" y="497.3" font-size="14.2" text-anchor="middle" stroke="#1a1a1a" stroke-width="0.15" fill="#1a1a1a">15</text>
<text x="222.4" y="497.3" font-size="14.2" text-anchor="middle" stroke="#1a1a1a" stroke-width="0.15" fill="#1a1a1a">10</text>
<text x="284.4" y="497.3" font-size="14.2" text-anchor="middle" stroke="#1a1a1a" stroke-width="0.15" fill="#1a1a1a">5</text>
<text x="347.2" y="497.3" font-size="14.2" text-anchor="middle" stroke="#1a1a1a" stroke-width="0.15" fill="#1a1a1a">0</text>
<text x="155.9" y="505.5" font-size="14.2" text-anchor="start" textLength="114.6" lengthAdjust="spacingAndGlyphs" stroke="#1a1a1a" stroke-width="0.15" fill="#1a1a1a">ctDNA fraction (%)</text>
<text x="97" y="521.4" font-size="14.2" text-anchor="middle" stroke="#1a1a1a" stroke-width="0.15" fill="#1a1a1a">150</text>
<text x="159.6" y="521.4" font-size="14.2" text-anchor="middle" stroke="#1a1a1a" stroke-width="0.15" fill="#1a1a1a">150</text>
<text x="213.9" y="521.4" font-size="14.2" text-anchor="middle" stroke="#1a1a1a" stroke-width="0.15" fill="#1a1a1a">150</text>
<text x="285.2" y="521.4" font-size="14.2" text-anchor="middle" stroke="#1a1a1a" stroke-width="0.15" fill="#1a1a1a">150</text>
<text x="342.8" y="521.4" font-size="14.2" text-anchor="middle" stroke="#1a1a1a" stroke-width="0.15" fill="#1a1a1a">150</text>
<text x="120.9" y="533.6" font-size="14.2" text-anchor="start" textLength="187.9" lengthAdjust="spacingAndGlyphs" stroke="#1a1a1a" stroke-width="0.15" fill="#1a1a1a">effective depth of coverage (x)</text>
<text x="61.4" y="306.8" font-size="14.2" text-anchor="end" stroke="#1a1a1a" stroke-width="0.15" fill="#1a1a1a">1.0</text>
<text x="61.4" y="342.2" font-size="14.2" text-anchor="end" stroke="#1a1a1a" stroke-width="0.15" fill="#1a1a1a">0.8</text>
<text x="61.4" y="377.7" font-size="14.2" text-anchor="end" stroke="#1a1a1a" stroke-width="0.15" fill="#1a1a1a">0.6</text>
<text x="61.4" y="413.8" font-size="14.2" text-anchor="end" stroke="#1a1a1a" stroke-width="0.15" fill="#1a1a1a">0.4</text>
<text x="61.4" y="450.0" font-size="14.2" text-anchor="end" stroke="#1a1a1a" stroke-width="0.15" fill="#1a1a1a">0.2</text>
<text x="61.4" y="485.2" font-size="14.2" text-anchor="end" stroke="#1a1a1a" stroke-width="0.15" fill="#1a1a1a">0.0</text>
<clipPath id="cBR"><rect x="395.9" y="299.4" width="277.5" height="182.90000000000003"/></clipPath>
<rect x="395.9" y="299.4" width="277.5" height="182.90000000000003" fill="#fff"/>
<line x1="660.5" y1="299.4" x2="660.5" y2="482.3" stroke="#e4e4e4" stroke-width="0.9"/>
<line x1="647.9" y1="299.4" x2="647.9" y2="482.3" stroke="#e4e4e4" stroke-width="0.9"/>
<line x1="635.4" y1="299.4" x2="635.4" y2="482.3" stroke="#e4e4e4" stroke-width="0.9"/>
<line x1="622.8" y1="299.4" x2="622.8" y2="482.3" stroke="#e4e4e4" stroke-width="0.9"/>
<line x1="610.2" y1="299.4" x2="610.2" y2="482.3" stroke="#a4a4a4" stroke-width="1.1"/>
<line x1="597.7" y1="299.4" x2="597.7" y2="482.3" stroke="#e4e4e4" stroke-width="0.9"/>
<line x1="585.1" y1="299.4" x2="585.1" y2="482.3" stroke="#e4e4e4" stroke-width="0.9"/>
<line x1="572.6" y1="299.4" x2="572.6" y2="482.3" stroke="#e4e4e4" stroke-width="0.9"/>
<line x1="560.0" y1="299.4" x2="560.0" y2="482.3" stroke="#e4e4e4" stroke-width="0.9"/>
<line x1="547.5" y1="299.4" x2="547.5" y2="482.3" stroke="#a4a4a4" stroke-width="1.1"/>
<line x1="535.0" y1="299.4" x2="535.0" y2="482.3" stroke="#e4e4e4" stroke-width="0.9"/>
<line x1="522.4" y1="299.4" x2="522.4" y2="482.3" stroke="#e4e4e4" stroke-width="0.9"/>
<line x1="509.9" y1="299.4" x2="509.9" y2="482.3" stroke="#e4e4e4" stroke-width="0.9"/>
<line x1="497.3" y1="299.4" x2="497.3" y2="482.3" stroke="#e4e4e4" stroke-width="0.9"/>
<line x1="484.8" y1="299.4" x2="484.8" y2="482.3" stroke="#a4a4a4" stroke-width="1.1"/>
<line x1="472.2" y1="299.4" x2="472.2" y2="482.3" stroke="#e4e4e4" stroke-width="0.9"/>
<line x1="459.6" y1="299.4" x2="459.6" y2="482.3" stroke="#e4e4e4" stroke-width="0.9"/>
<line x1="447.1" y1="299.4" x2="447.1" y2="482.3" stroke="#e4e4e4" stroke-width="0.9"/>
<line x1="434.5" y1="299.4" x2="434.5" y2="482.3" stroke="#e4e4e4" stroke-width="0.9"/>
<line x1="422.0" y1="299.4" x2="422.0" y2="482.3" stroke="#a4a4a4" stroke-width="1.1"/>
<line x1="409.4" y1="299.4" x2="409.4" y2="482.3" stroke="#e4e4e4" stroke-width="0.9"/>
<line x1="395.9" y1="336.0" x2="673.4" y2="336.0" stroke="#c4c4c4" stroke-width="1.3"/>
<line x1="395.9" y1="372.6" x2="673.4" y2="372.6" stroke="#c4c4c4" stroke-width="1.3"/>
<line x1="395.9" y1="409.2" x2="673.4" y2="409.2" stroke="#c4c4c4" stroke-width="1.3"/>
<line x1="395.9" y1="445.7" x2="673.4" y2="445.7" stroke="#c4c4c4" stroke-width="1.3"/>
<g clip-path="url(#cBR)">
<polyline points="409.6,456.9 475.7,461.8 541.9,462.1 568.2,463.4 621.0,462.1 647.3,461.8" fill="none" stroke="#1f77b4" stroke-width="1.05"/>
<circle cx="409.6" cy="456.9" r="3.0" fill="#1f77b4"/>
<circle cx="475.7" cy="461.8" r="3.0" fill="#1f77b4"/>
<circle cx="541.9" cy="462.1" r="3.0" fill="#1f77b4"/>
<circle cx="568.2" cy="463.4" r="3.0" fill="#1f77b4"/>
<circle cx="621.0" cy="462.1" r="3.0" fill="#1f77b4"/>
<circle cx="647.3" cy="461.8" r="3.0" fill="#1f77b4"/>
<polyline points="409.6,412.3 475.7,418.1 541.9,424.8 568.2,427.6 621.0,436.5 647.3,442.5" fill="none" stroke="#ff7f0e" stroke-width="1.05"/>
<circle cx="409.6" cy="412.3" r="3.0" fill="#ff7f0e"/>
<circle cx="475.7" cy="418.1" r="3.0" fill="#ff7f0e"/>
<circle cx="541.9" cy="424.8" r="3.0" fill="#ff7f0e"/>
<circle cx="568.2" cy="427.6" r="3.0" fill="#ff7f0e"/>
<circle cx="621.0" cy="436.5" r="3.0" fill="#ff7f0e"/>
<circle cx="647.3" cy="442.5" r="3.0" fill="#ff7f0e"/>
<polyline points="409.6,427.6 475.7,432.2 541.9,443.5 568.2,446.3 621.0,454.2 647.3,465.0" fill="none" stroke="#2ca02c" stroke-width="1.05"/>
<circle cx="409.6" cy="427.6" r="3.0" fill="#2ca02c"/>
<circle cx="475.7" cy="432.2" r="3.0" fill="#2ca02c"/>
<circle cx="541.9" cy="443.5" r="3.0" fill="#2ca02c"/>
<circle cx="568.2" cy="446.3" r="3.0" fill="#2ca02c"/>
<circle cx="621.0" cy="454.2" r="3.0" fill="#2ca02c"/>
<circle cx="647.3" cy="465.0" r="3.0" fill="#2ca02c"/>
<polyline points="409.6,428.8 475.7,433.2 541.9,437.8 568.2,458.7 621.0,447.3 647.3,448.8" fill="none" stroke="#d62728" stroke-width="1.05"/>
<circle cx="409.6" cy="428.8" r="3.0" fill="#d62728"/>
<circle cx="475.7" cy="433.2" r="3.0" fill="#d62728"/>
<circle cx="541.9" cy="437.8" r="3.0" fill="#d62728"/>
<circle cx="568.2" cy="458.7" r="3.0" fill="#d62728"/>
<circle cx="621.0" cy="447.3" r="3.0" fill="#d62728"/>
<circle cx="647.3" cy="448.8" r="3.0" fill="#d62728"/>
<polyline points="409.6,355.2 475.7,355.7 541.9,358.6 568.2,362.1 621.0,373.2 647.3,383.6" fill="none" stroke="#9467bd" stroke-width="1.05"/>
<circle cx="409.6" cy="355.2" r="3.0" fill="#9467bd"/>
<circle cx="475.7" cy="355.7" r="3.0" fill="#9467bd"/>
<circle cx="541.9" cy="358.6" r="3.0" fill="#9467bd"/>
<circle cx="568.2" cy="362.1" r="3.0" fill="#9467bd"/>
<circle cx="621.0" cy="373.2" r="3.0" fill="#9467bd"/>
<circle cx="647.3" cy="383.6" r="3.0" fill="#9467bd"/>
<polyline points="409.6,418.1 475.7,420.9 541.9,424.5 568.2,427.3 621.0,435.5 647.3,441.2" fill="none" stroke="#bcbd22" stroke-width="1.05"/>
<circle cx="409.6" cy="418.1" r="3.0" fill="#bcbd22"/>
<circle cx="475.7" cy="420.9" r="3.0" fill="#bcbd22"/>
<circle cx="541.9" cy="424.5" r="3.0" fill="#bcbd22"/>
<circle cx="568.2" cy="427.3" r="3.0" fill="#bcbd22"/>
<circle cx="621.0" cy="435.5" r="3.0" fill="#bcbd22"/>
<circle cx="647.3" cy="441.2" r="3.0" fill="#bcbd22"/>
<polyline points="409.6,477.1 475.7,478.4 541.9,479.9 568.2,482.1 621.0,482.2 647.3,482.2" fill="none" stroke="#17becf" stroke-width="1.05"/>
<circle cx="409.6" cy="477.1" r="3.0" fill="#17becf"/>
<circle cx="475.7" cy="478.4" r="3.0" fill="#17becf"/>
<circle cx="541.9" cy="479.9" r="3.0" fill="#17becf"/>
<circle cx="568.2" cy="482.1" r="3.0" fill="#17becf"/>
<circle cx="621.0" cy="482.2" r="3.0" fill="#17becf"/>
<circle cx="647.3" cy="482.2" r="3.0" fill="#17becf"/>
<polyline points="409.6,363.7 475.7,366.9 541.9,373.8 568.2,376.3 621.0,381.4 647.3,388.1" fill="none" stroke="#8c564b" stroke-width="1.05"/>
<circle cx="409.6" cy="363.7" r="3.0" fill="#8c564b"/>
<circle cx="475.7" cy="366.9" r="3.0" fill="#8c564b"/>
<circle cx="541.9" cy="373.8" r="3.0" fill="#8c564b"/>
<circle cx="568.2" cy="376.3" r="3.0" fill="#8c564b"/>
<circle cx="621.0" cy="381.4" r="3.0" fill="#8c564b"/>
<circle cx="647.3" cy="388.1" r="3.0" fill="#8c564b"/>
<polyline points="409.6,482.2 475.7,482.2 541.9,482.2 568.2,482.2 621.0,482.2 647.3,482.2" fill="none" stroke="#db78c0" stroke-width="1.05"/>
<circle cx="409.6" cy="482.2" r="3.0" fill="#db78c0"/>
<circle cx="475.7" cy="482.2" r="3.0" fill="#db78c0"/>
<circle cx="541.9" cy="482.2" r="3.0" fill="#db78c0"/>
<circle cx="568.2" cy="482.2" r="3.0" fill="#db78c0"/>
<circle cx="621.0" cy="482.2" r="3.0" fill="#db78c0"/>
<circle cx="647.3" cy="482.2" r="3.0" fill="#db78c0"/>
</g>
<rect x="395.9" y="299.4" width="277.5" height="182.90000000000003" fill="none" stroke="#383838" stroke-width="1.1"/>
<line x1="673.0" y1="482.3" x2="673.0" y2="484.7" stroke="#555" stroke-width="0.8"/>
<line x1="673.0" y1="507.4" x2="673.0" y2="509.79999999999995" stroke="#555" stroke-width="0.8"/>
<line x1="660.5" y1="482.3" x2="660.5" y2="483.7" stroke="#555" stroke-width="0.8"/>
<line x1="660.5" y1="507.4" x2="660.5" y2="508.79999999999995" stroke="#555" stroke-width="0.8"/>
<line x1="647.9" y1="482.3" x2="647.9" y2="483.7" stroke="#555" stroke-width="0.8"/>
<line x1="647.9" y1="507.4" x2="647.9" y2="508.79999999999995" stroke="#555" stroke-width="0.8"/>
<line x1="635.4" y1="482.3" x2="635.4" y2="483.7" stroke="#555" stroke-width="0.8"/>
<line x1="635.4" y1="507.4" x2="635.4" y2="508.79999999999995" stroke="#555" stroke-width="0.8"/>
<line x1="622.8" y1="482.3" x2="622.8" y2="483.7" stroke="#555" stroke-width="0.8"/>
<line x1="622.8" y1="507.4" x2="622.8" y2="508.79999999999995" stroke="#555" stroke-width="0.8"/>
<line x1="610.2" y1="482.3" x2="610.2" y2="484.7" stroke="#555" stroke-width="0.8"/>
<line x1="610.2" y1="507.4" x2="610.2" y2="509.79999999999995" stroke="#555" stroke-width="0.8"/>
<line x1="597.7" y1="482.3" x2="597.7" y2="483.7" stroke="#555" stroke-width="0.8"/>
<line x1="597.7" y1="507.4" x2="597.7" y2="508.79999999999995" stroke="#555" stroke-width="0.8"/>
<line x1="585.1" y1="482.3" x2="585.1" y2="483.7" stroke="#555" stroke-width="0.8"/>
<line x1="585.1" y1="507.4" x2="585.1" y2="508.79999999999995" stroke="#555" stroke-width="0.8"/>
<line x1="572.6" y1="482.3" x2="572.6" y2="483.7" stroke="#555" stroke-width="0.8"/>
<line x1="572.6" y1="507.4" x2="572.6" y2="508.79999999999995" stroke="#555" stroke-width="0.8"/>
<line x1="560.0" y1="482.3" x2="560.0" y2="483.7" stroke="#555" stroke-width="0.8"/>
<line x1="560.0" y1="507.4" x2="560.0" y2="508.79999999999995" stroke="#555" stroke-width="0.8"/>
<line x1="547.5" y1="482.3" x2="547.5" y2="484.7" stroke="#555" stroke-width="0.8"/>
<line x1="547.5" y1="507.4" x2="547.5" y2="509.79999999999995" stroke="#555" stroke-width="0.8"/>
<line x1="535.0" y1="482.3" x2="535.0" y2="483.7" stroke="#555" stroke-width="0.8"/>
<line x1="535.0" y1="507.4" x2="535.0" y2="508.79999999999995" stroke="#555" stroke-width="0.8"/>
<line x1="522.4" y1="482.3" x2="522.4" y2="483.7" stroke="#555" stroke-width="0.8"/>
<line x1="522.4" y1="507.4" x2="522.4" y2="508.79999999999995" stroke="#555" stroke-width="0.8"/>
<line x1="509.9" y1="482.3" x2="509.9" y2="483.7" stroke="#555" stroke-width="0.8"/>
<line x1="509.9" y1="507.4" x2="509.9" y2="508.79999999999995" stroke="#555" stroke-width="0.8"/>
<line x1="497.3" y1="482.3" x2="497.3" y2="483.7" stroke="#555" stroke-width="0.8"/>
<line x1="497.3" y1="507.4" x2="497.3" y2="508.79999999999995" stroke="#555" stroke-width="0.8"/>
<line x1="484.8" y1="482.3" x2="484.8" y2="484.7" stroke="#555" stroke-width="0.8"/>
<line x1="484.8" y1="507.4" x2="484.8" y2="509.79999999999995" stroke="#555" stroke-width="0.8"/>
<line x1="472.2" y1="482.3" x2="472.2" y2="483.7" stroke="#555" stroke-width="0.8"/>
<line x1="472.2" y1="507.4" x2="472.2" y2="508.79999999999995" stroke="#555" stroke-width="0.8"/>
<line x1="459.6" y1="482.3" x2="459.6" y2="483.7" stroke="#555" stroke-width="0.8"/>
<line x1="459.6" y1="507.4" x2="459.6" y2="508.79999999999995" stroke="#555" stroke-width="0.8"/>
<line x1="447.1" y1="482.3" x2="447.1" y2="483.7" stroke="#555" stroke-width="0.8"/>
<line x1="447.1" y1="507.4" x2="447.1" y2="508.79999999999995" stroke="#555" stroke-width="0.8"/>
<line x1="434.5" y1="482.3" x2="434.5" y2="483.7" stroke="#555" stroke-width="0.8"/>
<line x1="434.5" y1="507.4" x2="434.5" y2="508.79999999999995" stroke="#555" stroke-width="0.8"/>
<line x1="422.0" y1="482.3" x2="422.0" y2="484.7" stroke="#555" stroke-width="0.8"/>
<line x1="422.0" y1="507.4" x2="422.0" y2="509.79999999999995" stroke="#555" stroke-width="0.8"/>
<line x1="409.4" y1="482.3" x2="409.4" y2="483.7" stroke="#555" stroke-width="0.8"/>
<line x1="409.4" y1="507.4" x2="409.4" y2="508.79999999999995" stroke="#555" stroke-width="0.8"/>
<line x1="396.9" y1="482.3" x2="396.9" y2="483.7" stroke="#555" stroke-width="0.8"/>
<line x1="396.9" y1="507.4" x2="396.9" y2="508.79999999999995" stroke="#555" stroke-width="0.8"/>
<line x1="394.9" y1="507.4" x2="673.4" y2="507.4" stroke="#444" stroke-width="1.2"/>
<text x="422.4" y="495.3" font-size="14.2" text-anchor="middle" stroke="#1a1a1a" stroke-width="0.15" fill="#1a1a1a">20</text>
<text x="485.2" y="495.3" font-size="14.2" text-anchor="middle" stroke="#1a1a1a" stroke-width="0.15" fill="#1a1a1a">15</text>
<text x="547.8" y="495.3" font-size="14.2" text-anchor="middle" stroke="#1a1a1a" stroke-width="0.15" fill="#1a1a1a">10</text>
<text x="609.7" y="495.3" font-size="14.2" text-anchor="middle" stroke="#1a1a1a" stroke-width="0.15" fill="#1a1a1a">5</text>
<text x="668" y="495.3" font-size="14.2" text-anchor="middle" stroke="#1a1a1a" stroke-width="0.15" fill="#1a1a1a">0</text>
<text x="482.4" y="504.6" font-size="14.2" text-anchor="start" textLength="113.9" lengthAdjust="spacingAndGlyphs" stroke="#1a1a1a" stroke-width="0.15" fill="#1a1a1a">ctDNA fraction (%)</text>
<text x="423.6" y="521" font-size="14.2" text-anchor="middle" stroke="#1a1a1a" stroke-width="0.15" fill="#1a1a1a">2000</text>
<text x="482.1" y="521" font-size="14.2" text-anchor="middle" stroke="#1a1a1a" stroke-width="0.15" fill="#1a1a1a">2000</text>
<text x="548.5" y="521" font-size="14.2" text-anchor="middle" stroke="#1a1a1a" stroke-width="0.15" fill="#1a1a1a">2000</text>
<text x="606.7" y="521" font-size="14.2" text-anchor="middle" stroke="#1a1a1a" stroke-width="0.15" fill="#1a1a1a">2000</text>
<text x="669.3" y="521" font-size="14.2" text-anchor="middle" stroke="#1a1a1a" stroke-width="0.15" fill="#1a1a1a">2000</text>
<text x="436.9" y="533" font-size="14.2" text-anchor="start" textLength="187.4" lengthAdjust="spacingAndGlyphs" stroke="#1a1a1a" stroke-width="0.15" fill="#1a1a1a">effective depth of coverage (x)</text>
<text x="394.3" y="308.40000000000003" font-size="14.2" text-anchor="end" stroke="#1a1a1a" stroke-width="0.15" fill="#1a1a1a">1.0</text>
<text x="394.3" y="344.40000000000003" font-size="14.2" text-anchor="end" stroke="#1a1a1a" stroke-width="0.15" fill="#1a1a1a">0.8</text>
<text x="394.3" y="380.40000000000003" font-size="14.2" text-anchor="end" stroke="#1a1a1a" stroke-width="0.15" fill="#1a1a1a">0.6</text>
<text x="394.3" y="415.3" font-size="14.2" text-anchor="end" stroke="#1a1a1a" stroke-width="0.15" fill="#1a1a1a">0.4</text>
<text x="394.3" y="451.5" font-size="14.2" text-anchor="end" stroke="#1a1a1a" stroke-width="0.15" fill="#1a1a1a">0.2</text>
<text x="394.3" y="487.0" font-size="14.2" text-anchor="end" stroke="#1a1a1a" stroke-width="0.15" fill="#1a1a1a">0.0</text>
</svg>
</body></html>
